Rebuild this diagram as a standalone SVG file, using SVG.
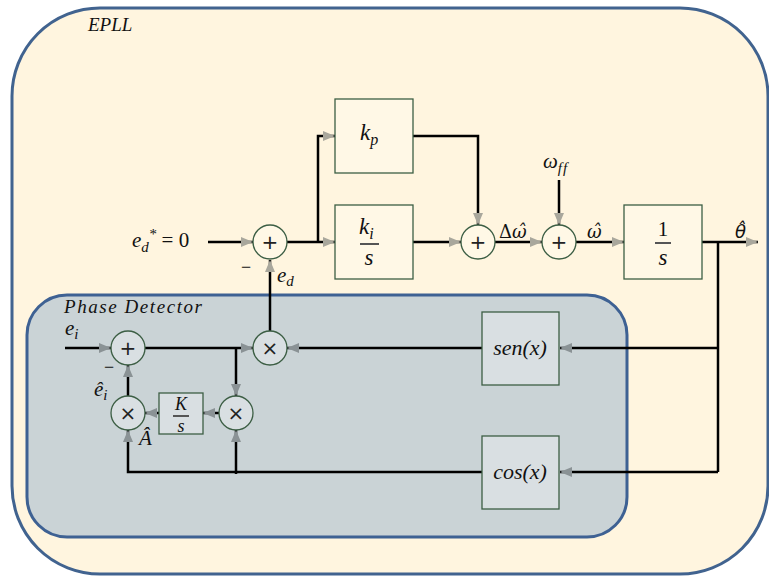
<svg xmlns="http://www.w3.org/2000/svg" width="769" height="576" viewBox="0 0 769 576">
<defs>
<style>
.frame{fill:#FFF5DF;stroke:#41638F;stroke-width:3}
.pd{fill:#CAD3D6;stroke:#3E6193;stroke-width:3}
.boxc{fill:#FFF8E6;stroke:#3C5E44;stroke-width:1.3}
.boxg{fill:#D9DFE2;stroke:#3C5E44;stroke-width:1.3}
.circc{fill:#FFF8E6;stroke:#3C5E44;stroke-width:1.3}
.circg{fill:#D9DFE2;stroke:#3C5E44;stroke-width:1.3}
.w{fill:none;stroke:#000;stroke-width:2.5}
.wc{fill:none;stroke:#000;stroke-width:2.5;marker-end:url(#ac)}
.wg{fill:none;stroke:#000;stroke-width:2.5;marker-end:url(#ag)}
.m{font-family:"Liberation Serif","DejaVu Serif",serif;font-style:italic;fill:#111;font-variant-ligatures:none}
.dj{font-family:"DejaVu Serif",serif;font-style:italic;fill:#111;font-size:18px}
.u{font-family:"Liberation Serif","DejaVu Serif",serif;fill:#111}
.op{font-family:"DejaVu Sans","Liberation Sans",sans-serif;fill:#222;font-size:20px;text-anchor:middle}
.t{font-family:"Liberation Serif","DejaVu Serif",serif;font-style:italic;fill:#111;font-size:19px}
</style>
<marker id="ac" viewBox="0 0 12 10" refX="12" refY="5" markerWidth="12" markerHeight="10" markerUnits="userSpaceOnUse" orient="auto"><path d="M0,0 L12,5 L0,10 z" fill="#A9A79C"/></marker>
<marker id="ag" viewBox="0 0 12 10" refX="12" refY="5" markerWidth="12" markerHeight="10" markerUnits="userSpaceOnUse" orient="auto"><path d="M0,0 L12,5 L0,10 z" fill="#8A9295"/></marker>
</defs>

<g id="epll-frame">
<rect class="frame" x="12" y="8" width="756" height="566" rx="88" ry="88"/>
<text class="t" x="88" y="31" font-size="20">EPLL</text>
</g>

<g id="phase-detector-frame">
<rect class="pd" x="27" y="295" width="600" height="242" rx="40" ry="40"/>
<text class="t" x="64" y="313" textLength="138" lengthAdjust="spacing">Phase Detector</text>
</g>

<g id="connectors">
<path class="wc" d="M208,242 H253"/>
<path class="wc" d="M287,242 H335"/>
<path class="wc" d="M318,242 V136 H335"/>
<path class="wc" d="M413,136 H478 V225"/>
<path class="wc" d="M413,242 H461"/>
<path class="wc" d="M495,242 H542"/>
<path class="wc" d="M559,180 V225"/>
<path class="wc" d="M576,242 H624"/>
<path class="wc" d="M702,242 H758"/>
<path class="w" d="M718,242 V472"/>
<path class="wg" d="M718,348 H560"/>
<path class="wg" d="M718,472 H560"/>
<path class="wc" d="M270,331 V260"/>
<path class="wg" d="M482,348 H287"/>
<path class="wg" d="M65,348 H111"/>
<path class="wg" d="M145,348 H253"/>
<path class="wg" d="M236,348 V396"/>
<path class="wg" d="M219,413 H203"/>
<path class="wg" d="M159,413 H145"/>
<path class="wg" d="M128,396 V365"/>
<path class="wg" d="M482,472 H128 V430"/>
<path class="wg" d="M236,474 V430"/>
</g>

<g id="input-label">
<text class="m" x="132" y="247" font-size="21">e<tspan font-size="15" dy="5">d</tspan><tspan font-size="15" dy="-13">*</tspan><tspan class="u" font-style="normal" font-size="21" dy="8"> = 0</tspan></text>
</g>

<g id="sum1">
<circle class="circc" cx="270" cy="242" r="17"/>
<text class="op" x="270" y="249">+</text>
<text class="u" x="241" y="273" font-size="18">−</text>
<text class="m" x="277" y="282" font-size="21">e<tspan font-size="15" dy="4">d</tspan></text>
</g>

<g id="kp">
<rect class="boxc" x="335" y="99" width="78" height="74"/>
<text class="m" x="360" y="140" font-size="23">k<tspan font-size="16" dy="5">p</tspan></text>
</g>

<g id="ki-s">
<rect class="boxc" x="335" y="205" width="78" height="74"/>
<text class="m" x="359" y="234" font-size="23">k<tspan font-size="16" dy="5">i</tspan></text>
<line x1="360" y1="244" x2="379" y2="244" stroke="#555" stroke-width="2"/>
<text class="m" x="369" y="265" font-size="23" text-anchor="middle">s</text>
</g>

<g id="sum2">
<circle class="circc" cx="478" cy="242" r="17"/>
<text class="op" x="478" y="249">+</text>
<text class="dj" x="499" y="238"><tspan font-style="normal">Δ</tspan>ω̂</text>
</g>

<g id="sum3">
<circle class="circc" cx="559" cy="242" r="17"/>
<text class="op" x="559" y="249">+</text>
<text class="m" x="543" y="168" font-size="21">ω<tspan font-size="15" dy="5" letter-spacing="1">ff</tspan></text>
<text class="dj" x="587" y="238">ω̂</text>
</g>

<g id="integrator">
<rect class="boxc" x="624" y="205" width="78" height="74"/>
<text class="u" x="663" y="236" font-size="21" text-anchor="middle">1</text>
<line x1="655" y1="243" x2="671" y2="243" stroke="#555" stroke-width="2"/>
<text class="m" x="663" y="265" font-size="23" text-anchor="middle">s</text>
<text x="735" y="238" font-family="'DejaVu Sans',sans-serif" font-style="italic" font-size="18" fill="#111">θ̂</text>
</g>

<g id="sen">
<rect class="boxg" x="482" y="312" width="77" height="73"/>
<text class="m" x="520" y="355" font-size="22" text-anchor="middle">sen(x)</text>
</g>

<g id="cos">
<rect class="boxg" x="482" y="436" width="77" height="73"/>
<text class="m" x="520" y="479" font-size="22" text-anchor="middle">cos(x)</text>
</g>

<g id="mult-top">
<circle class="circg" cx="270" cy="348" r="17"/>
<text class="op" x="270" y="355">×</text>
</g>

<g id="sum-pd">
<circle class="circg" cx="128" cy="348" r="17"/>
<text class="op" x="128" y="355">+</text>
<text class="m" x="65" y="335" font-size="21">e<tspan font-size="15" dy="4">i</tspan></text>
<text class="u" x="104" y="373" font-size="18" fill="#666">−</text>
<text class="m" x="94" y="396" font-size="21">ê<tspan font-size="15" dy="4">i</tspan></text>
</g>

<g id="mult-right">
<circle class="circg" cx="236" cy="413" r="17"/>
<text class="op" x="236" y="420">×</text>
</g>

<g id="k-s">
<rect class="boxg" x="159" y="393" width="44" height="41"/>
<text class="m" x="181" y="410" font-size="18" text-anchor="middle">K</text>
<line x1="173" y1="416" x2="189" y2="416" stroke="#555" stroke-width="2"/>
<text class="m" x="181" y="432" font-size="18" text-anchor="middle">s</text>
</g>

<g id="mult-left">
<circle class="circg" cx="128" cy="413" r="17"/>
<text class="op" x="128" y="420">×</text>
<text class="m" x="139" y="445" font-size="21">Â</text>
</g>
</svg>
